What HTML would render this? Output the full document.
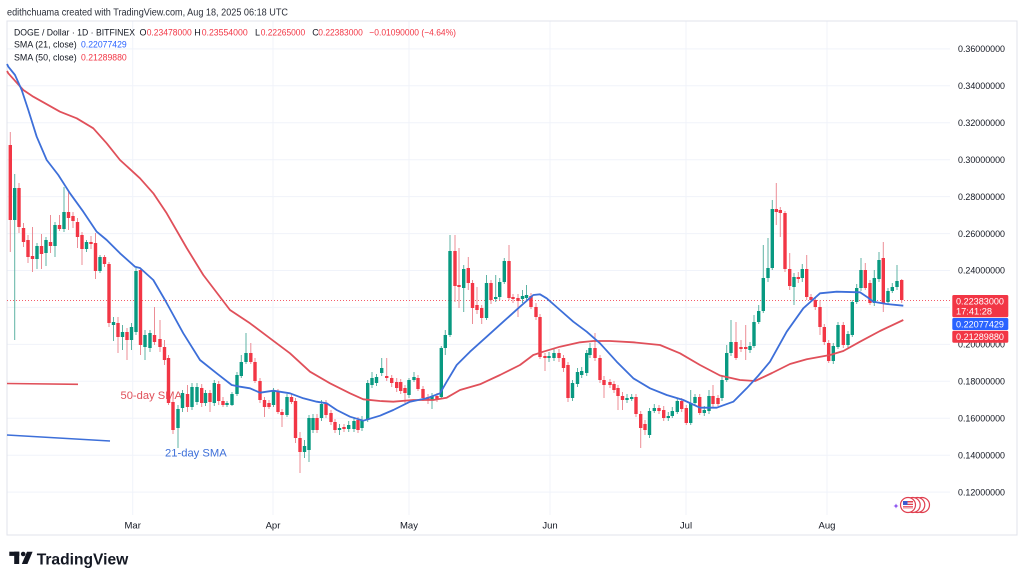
<!DOCTYPE html>
<html><head><meta charset="utf-8"><style>html,body{margin:0;padding:0;background:#fff;overflow:hidden}svg{display:block}</style></head><body>
<svg width="1024" height="581" viewBox="0 0 1024 581" xmlns="http://www.w3.org/2000/svg" font-family="Liberation Sans, Arial, sans-serif">
<rect width="1024" height="581" fill="#fff"/>
<text x="7" y="15.3" font-size="10" fill="#2a2e39" textLength="281" lengthAdjust="spacingAndGlyphs">edithchuama created with TradingView.com, Aug 18, 2025 06:18 UTC</text>
<g stroke="#f0f3fa" stroke-width="1">
<path d="M7 48.9H950M7 85.8H950M7 122.8H950M7 159.7H950M7 196.6H950M7 233.6H950M7 270.5H950M7 307.4H950M7 344.4H950M7 381.3H950M7 418.2H950M7 455.2H950M7 492.1H950"/>
<path d="M132.7 21V515M273 21V515M409 21V515M550 21V515M686 21V515M827 21V515"/>
</g>
<rect x="7" y="21" width="1010" height="514" fill="none" stroke="#e0e3eb" stroke-width="1"/>
<g font-size="9">
<text x="14" y="35.5" fill="#131722" textLength="121" lengthAdjust="spacingAndGlyphs">DOGE / Dollar · 1D · BITFINEX</text>
<text x="139.5" y="35.5" fill="#131722">O</text>
<text x="146.7" y="35.5" fill="#f23645" textLength="45" lengthAdjust="spacingAndGlyphs">0.23478000</text>
<text x="194.3" y="35.5" fill="#131722">H</text>
<text x="201.7" y="35.5" fill="#f23645" textLength="46" lengthAdjust="spacingAndGlyphs">0.23554000</text>
<text x="255" y="35.5" fill="#131722">L</text>
<text x="260.7" y="35.5" fill="#f23645" textLength="44.5" lengthAdjust="spacingAndGlyphs">0.22265000</text>
<text x="312.3" y="35.5" fill="#131722">C</text>
<text x="318.3" y="35.5" fill="#f23645" textLength="44.5" lengthAdjust="spacingAndGlyphs">0.22383000</text>
<text x="369.3" y="35.5" fill="#f23645" textLength="86.7" lengthAdjust="spacingAndGlyphs">−0.01090000 (−4.64%)</text>
<text x="14" y="47.5" fill="#131722" textLength="62.7" lengthAdjust="spacingAndGlyphs">SMA (21, close)</text>
<text x="81" y="47.5" fill="#2962ff" textLength="45.7" lengthAdjust="spacingAndGlyphs">0.22077429</text>
<text x="14" y="60.5" fill="#131722" textLength="62.7" lengthAdjust="spacingAndGlyphs">SMA (50, close)</text>
<text x="81" y="60.5" fill="#f23645" textLength="45.7" lengthAdjust="spacingAndGlyphs">0.21289880</text>
</g>
<g font-size="9" fill="#131722">
<text x="958" y="52.1" textLength="47" lengthAdjust="spacingAndGlyphs">0.36000000</text>
<text x="958" y="89" textLength="47" lengthAdjust="spacingAndGlyphs">0.34000000</text>
<text x="958" y="126" textLength="47" lengthAdjust="spacingAndGlyphs">0.32000000</text>
<text x="958" y="162.9" textLength="47" lengthAdjust="spacingAndGlyphs">0.30000000</text>
<text x="958" y="199.8" textLength="47" lengthAdjust="spacingAndGlyphs">0.28000000</text>
<text x="958" y="236.8" textLength="47" lengthAdjust="spacingAndGlyphs">0.26000000</text>
<text x="958" y="273.7" textLength="47" lengthAdjust="spacingAndGlyphs">0.24000000</text>
<text x="958" y="347.6" textLength="47" lengthAdjust="spacingAndGlyphs">0.20000000</text>
<text x="958" y="384.5" textLength="47" lengthAdjust="spacingAndGlyphs">0.18000000</text>
<text x="958" y="421.4" textLength="47" lengthAdjust="spacingAndGlyphs">0.16000000</text>
<text x="958" y="458.4" textLength="47" lengthAdjust="spacingAndGlyphs">0.14000000</text>
<text x="958" y="495.3" textLength="47" lengthAdjust="spacingAndGlyphs">0.12000000</text>
</g>
<g font-size="9.5" fill="#131722" text-anchor="middle">
<text x="132.7" y="528.5">Mar</text>
<text x="273" y="528.5">Apr</text>
<text x="409" y="528.5">May</text>
<text x="550" y="528.5">Jun</text>
<text x="686" y="528.5">Jul</text>
<text x="827" y="528.5">Aug</text>
</g>
<!-- annotations -->
<line x1="7" y1="383.5" x2="78" y2="384.3" stroke="#e0505a" stroke-width="1.6"/>
<line x1="7" y1="435" x2="110" y2="441" stroke="#3d6fd9" stroke-width="1.6"/>
<text x="120.5" y="399" font-size="11" fill="#e0505a" textLength="61.5" lengthAdjust="spacingAndGlyphs">50-day SMA</text>
<text x="165" y="456.5" font-size="11" fill="#3d6fd9" textLength="61.7" lengthAdjust="spacingAndGlyphs">21-day SMA</text>
<!-- current price line -->
<line x1="7" y1="300.5" x2="950" y2="300.5" stroke="#f23645" stroke-width="1" stroke-dasharray="1 2" opacity="0.8"/>
<!-- wicks -->
<path fill="none" stroke="#5fb3a4" stroke-width="1" d="M14.7 174V340M37 243V269M46 237V266M55 222V257M64 187V232M86.5 240V252M100 255V273M113.5 317V341M122.5 325V350M131.5 323V350M136 268V335M145 330V360M150 330V352M178 405V448M182.5 390V412M192 383V410M197 383V405M205.5 390V406M214.3 380V406M227 401V407M232 392V406M237 372V396M241.3 355V378M246 333V364M273.5 388V407M287 394V417M304.5 440V458M309 415V462M313 414V433M321.5 400V421M339.5 424V435M348.7 421V432M354 418V432M362 416V431M367.7 380V422M372 372V388M376.5 374V386M381.7 358V376M409 378V398M414 372V382M432 393V409M441.3 346V399M445.3 330V355M450 235V337M463.7 265V312M486.5 275V320M495.7 275V302M499.7 278V300M504.3 258V284M522.5 290V303M526.5 285V300M549 352V362M554 348V361M572.5 380V401M577.5 368V387M581.7 367V378M586.7 350V376M590 343V358M627 394V403M631.7 394V401M649.5 408V438M654.3 404V413M668.3 412V421M672.3 407V418M677.3 398V414M690.7 390V425M695 394V406M704.3 406V416M709 390V414M722 376V401M726.7 345V382M731 320V356M750 342V353M754 315V348M758.7 305V324M763.3 245V313M768 238V282M772.3 200V270M794 273V305M802.3 264V282M833.3 343V364M838 322V349M848 331V348M852.3 300V337M856.7 284V304M861 258V291M874.3 270V306M879 252V282M888 288V304M892.3 283V293M897 265V290"/>
<path fill="none" stroke="#ec8d96" stroke-width="1" d="M10.3 132V252M19 183V233M23.5 223V247M28 235V263M32.5 227V272M41.5 234V269M50.5 215V253M59.5 215V231M68.5 192V230M73 212V228M77.5 218V248M82 232V265M91 236V249M95.5 233V279M104.5 255V267M109 262V327M118 317V353M127 328V360M140.5 268V355M154.5 307V345M160 320V352M164.5 340V365M168.5 355V405M173 395V434M187.5 385V412M201.7 384V407M210 390V412M218.7 381V405M223 397V407M250.8 343V364M255 358V383M260 378V403M264.5 397V417M269 400V409M278 389V414M282 409V427M291.5 394V404M295.5 398V443M300 432V473M317 414V433M326 400V418M331 410V425M335 419V433M344 424V432M358 417V433M386.7 358V381M391.7 375V387M396.7 378V392M400.7 379V394M405 385V403M418 375V391M423 386V401M428 394V404M437 393V402M455 235V302M459 248V308M468.3 257V290M472.5 280V324M477 287V314M481.7 305V324M491 280V304M509 245V300M513 294V303M518 294V317M531 293V309M536 303V320M540 314V359M545 353V371M559 349V362M563.5 355V372M568 362V402M595 333V361M600 355V383M604 376V398M610 379V388M614 381V393M618 385V410M622.5 392V410M636 394V417M640.7 411V448M645 420V435M659 405V414M663.7 406V421M681.7 398V412M686.3 405V425M699.7 394V415M713 385V407M718 395V406M736 322V360M741 340V352M745.7 325V360M776.3 183V225M780.3 207V237M785 211V272M789.7 253V290M798.3 272V283M806.7 255V300M811 294V302M815.3 297V310M820 300V335M824.3 324V345M828.7 340V363M843.3 322V348M865.3 263V290M870 280V305M883.3 242V312M901.7 279V303"/>
<!-- bodies -->
<path fill="#089981" d="M13 188h3.4V220h-3.4zM35.3 246h3.4V259h-3.4zM44.3 240h3.4V253h-3.4zM53.3 225h3.4V246h-3.4zM62.3 212h3.4V229h-3.4zM84.8 242h3.4V249h-3.4zM98.3 257h3.4V271h-3.4zM111.8 322h3.4V325h-3.4zM120.8 332h3.4V337h-3.4zM129.8 327h3.4V340h-3.4zM134.3 271h3.4V332h-3.4zM143.3 335h3.4V347h-3.4zM148.3 333h3.4V348h-3.4zM176.3 409h3.4V428h-3.4zM180.8 393h3.4V408h-3.4zM190.3 387h3.4V407h-3.4zM195.3 387h3.4V402h-3.4zM203.8 393h3.4V403h-3.4zM212.6 383h3.4V403h-3.4zM225.3 403h3.4V405h-3.4zM230.3 394h3.4V405h-3.4zM235.3 375h3.4V394h-3.4zM239.6 362h3.4V376h-3.4zM244.3 353h3.4V362h-3.4zM271.8 391h3.4V405h-3.4zM285.3 397h3.4V415h-3.4zM302.8 446h3.4V452h-3.4zM307.3 418h3.4V450h-3.4zM311.3 418h3.4V430h-3.4zM319.8 404h3.4V418h-3.4zM337.8 428h3.4V430h-3.4zM347 425h3.4V429h-3.4zM352.3 421h3.4V429h-3.4zM360.3 420h3.4V428h-3.4zM366 383h3.4V420h-3.4zM370.3 378h3.4V385h-3.4zM374.8 377h3.4V383h-3.4zM380 368h3.4V373h-3.4zM407.3 380h3.4V395h-3.4zM412.3 377h3.4V380h-3.4zM430.3 396h3.4V400h-3.4zM439.6 348h3.4V397h-3.4zM443.6 335h3.4V348h-3.4zM448.3 251h3.4V335h-3.4zM462 269h3.4V288h-3.4zM484.8 283h3.4V318h-3.4zM494 297h3.4V299h-3.4zM498 282h3.4V297h-3.4zM502.6 261h3.4V282h-3.4zM520.8 296h3.4V299h-3.4zM524.8 295h3.4V298h-3.4zM547.3 356h3.4V358h-3.4zM552.3 353h3.4V358h-3.4zM570.8 383h3.4V398h-3.4zM575.8 372h3.4V384h-3.4zM580 371h3.4V375h-3.4zM585 353h3.4V373h-3.4zM588.3 348h3.4V355h-3.4zM625.3 398h3.4V400h-3.4zM630 397h3.4V399h-3.4zM647.8 411h3.4V435h-3.4zM652.6 408h3.4V411h-3.4zM666.6 416h3.4V418h-3.4zM670.6 411h3.4V416h-3.4zM675.6 401h3.4V412h-3.4zM689 403h3.4V423h-3.4zM693.3 397h3.4V403h-3.4zM702.6 410h3.4V413h-3.4zM707.3 396h3.4V411h-3.4zM720.3 380h3.4V398h-3.4zM725 353h3.4V380h-3.4zM729.3 342h3.4V353h-3.4zM748.3 346h3.4V350h-3.4zM752.3 322h3.4V346h-3.4zM757 311h3.4V322h-3.4zM761.6 278h3.4V311h-3.4zM766.3 268h3.4V278h-3.4zM770.6 209h3.4V268h-3.4zM792.3 277h3.4V287h-3.4zM800.6 269h3.4V278h-3.4zM831.6 346h3.4V361h-3.4zM836.3 325h3.4V347h-3.4zM846.3 334h3.4V345h-3.4zM850.6 302h3.4V335h-3.4zM855 288h3.4V302h-3.4zM859.3 270h3.4V288h-3.4zM872.6 278h3.4V303h-3.4zM877.3 260h3.4V279h-3.4zM886.3 291h3.4V302h-3.4zM890.6 287h3.4V291h-3.4zM895.3 281h3.4V287h-3.4z"/>
<path fill="#f23645" d="M8.6 145h3.4V220h-3.4zM17.3 188h3.4V227h-3.4zM21.8 228h3.4V242h-3.4zM26.3 240h3.4V257h-3.4zM30.8 256h3.4V259h-3.4zM39.8 246h3.4V254h-3.4zM48.8 242h3.4V246h-3.4zM57.8 225h3.4V229h-3.4zM66.8 212h3.4V218h-3.4zM71.3 216h3.4V221h-3.4zM75.8 222h3.4V237h-3.4zM80.3 235h3.4V249h-3.4zM89.3 242h3.4V244h-3.4zM93.8 243h3.4V271h-3.4zM102.8 257h3.4V264h-3.4zM107.3 264h3.4V323h-3.4zM116.3 323h3.4V337h-3.4zM125.3 332h3.4V340h-3.4zM138.8 270h3.4V345h-3.4zM152.8 335h3.4V342h-3.4zM158.3 339h3.4V347h-3.4zM162.8 347h3.4V360h-3.4zM166.8 358h3.4V403h-3.4zM171.3 402h3.4V430h-3.4zM185.8 394h3.4V407h-3.4zM200 388h3.4V403h-3.4zM208.3 393h3.4V402h-3.4zM217 384h3.4V401h-3.4zM221.3 401h3.4V405h-3.4zM249.1 353h3.4V362h-3.4zM253.3 362h3.4V381h-3.4zM258.3 381h3.4V400h-3.4zM262.8 400h3.4V407h-3.4zM267.3 403h3.4V407h-3.4zM276.3 392h3.4V412h-3.4zM280.3 412h3.4V415h-3.4zM289.8 397h3.4V402h-3.4zM293.8 401h3.4V438h-3.4zM298.3 438h3.4V452h-3.4zM315.3 418h3.4V430h-3.4zM324.3 404h3.4V415h-3.4zM329.3 413h3.4V422h-3.4zM333.3 422h3.4V430h-3.4zM342.3 427h3.4V429h-3.4zM356.3 420h3.4V430h-3.4zM385 376h3.4V378h-3.4zM390 378h3.4V383h-3.4zM395 382h3.4V388h-3.4zM399 382h3.4V391h-3.4zM403.3 388h3.4V393h-3.4zM416.3 378h3.4V389h-3.4zM421.3 389h3.4V398h-3.4zM426.3 397h3.4V400h-3.4zM435.3 396h3.4V399h-3.4zM453.3 251h3.4V286h-3.4zM457.3 285h3.4V287h-3.4zM466.6 268h3.4V283h-3.4zM470.8 283h3.4V308h-3.4zM475.3 305h3.4V310h-3.4zM480 308h3.4V318h-3.4zM489.3 283h3.4V300h-3.4zM507.3 261h3.4V298h-3.4zM511.3 297h3.4V299h-3.4zM516.3 298h3.4V301h-3.4zM529.3 296h3.4V307h-3.4zM534.3 307h3.4V317h-3.4zM538.3 317h3.4V357h-3.4zM543.3 356h3.4V358h-3.4zM557.3 353h3.4V358h-3.4zM561.8 358h3.4V368h-3.4zM566.3 365h3.4V398h-3.4zM593.3 348h3.4V358h-3.4zM598.3 358h3.4V380h-3.4zM602.3 380h3.4V385h-3.4zM608.3 382h3.4V385h-3.4zM612.3 384h3.4V390h-3.4zM616.3 388h3.4V396h-3.4zM620.8 396h3.4V400h-3.4zM634.3 397h3.4V414h-3.4zM639 414h3.4V428h-3.4zM643.3 424h3.4V430h-3.4zM657.3 408h3.4V411h-3.4zM662 410h3.4V418h-3.4zM680 401h3.4V409h-3.4zM684.6 408h3.4V423h-3.4zM698 397h3.4V413h-3.4zM711.3 396h3.4V404h-3.4zM716.3 398h3.4V404h-3.4zM734.3 342h3.4V358h-3.4zM739.3 347h3.4V349h-3.4zM744 347h3.4V349h-3.4zM774.6 209h3.4V212h-3.4zM778.6 210h3.4V213h-3.4zM783.3 213h3.4V269h-3.4zM788 269h3.4V286h-3.4zM796.6 277h3.4V279h-3.4zM805 269h3.4V297h-3.4zM809.3 297h3.4V300h-3.4zM813.6 300h3.4V307h-3.4zM818.3 307h3.4V327h-3.4zM822.6 327h3.4V342h-3.4zM827 343h3.4V361h-3.4zM841.6 325h3.4V345h-3.4zM863.6 270h3.4V288h-3.4zM868.3 283h3.4V303h-3.4zM881.6 258h3.4V303h-3.4zM900 280h3.4V300h-3.4z"/>
<!-- SMA lines -->
<polyline fill="none" stroke="#e0505a" stroke-width="1.8" stroke-linejoin="round" points="7,71 8.3,73.3 23.3,90 33.3,96.7 60,111.7 76.7,118.3 93.3,128.3 106.7,143.3 120,160 140,178.3 153.3,193.3 166.7,213.3 186.7,248 203.3,275 230,310 250,323.3 270,338.3 290,353.3 310,371.7 330,383.3 350,393.3 363.3,399.3 380,401 393.3,401.7 413.3,400 433.3,400 446.7,397.7 460,390 480,384.3 500,375 520,365 533.3,355 543.3,351.7 560,346.7 580,342.3 593.3,341 610,341 633.3,342.3 660,345 680,353.3 700,365 720,375.5 740,380 755,381 772,373 790,364 806.7,359.3 830,355 843.3,351 860,341.7 880,331 903.3,320"/>
<polyline fill="none" stroke="#3d6fd9" stroke-width="1.8" stroke-linejoin="round" points="7,64 8.3,66.7 15,75 21.7,90 28.3,110 36.7,136.7 46.7,160 58.3,175 70,193.3 83.3,211.7 96.7,231.7 106.7,240 120,253.3 135,266.7 140,268 153.3,280 165,300 183.3,333.3 200,360 216.7,373.3 231.7,385 240,386.7 250,388.3 260,392.7 273.3,390.7 290,393.3 303.3,398.3 316.7,401.7 326.7,403.3 336.7,410 350,416.7 363.3,420.7 380,415.7 393.3,410 410,401.7 426.7,398.3 440,393.3 446.7,381.7 456.7,365 470,351.7 486.7,336.7 503.3,321.7 520,306.7 533.3,295 540,294.3 546.7,298.3 560,310 573.3,321.7 586.7,331.7 600,343.3 616.7,361.7 633.3,378.3 650,388.3 666.7,395 683.3,400 700,407.7 716.7,407.7 733.3,401.7 746.7,388.3 758,376 770,361.7 786.7,331.7 803.3,308.3 820,293.3 836.7,291.7 860,292.3 866.7,296.7 873.3,301.7 886.7,304 903.3,305.7"/>
<!-- price labels -->
<rect x="952.3" y="295" width="56" height="22.3" rx="1.5" fill="#f23645"/>
<rect x="952.3" y="318" width="56" height="12" rx="1.5" fill="#2962ff"/>
<rect x="952.3" y="330.7" width="56" height="12" rx="1.5" fill="#f23645"/>
<g font-size="9" fill="#fff">
<text x="956" y="304.5" textLength="48" lengthAdjust="spacingAndGlyphs">0.22383000</text>
<text x="956" y="314.5" textLength="36" lengthAdjust="spacingAndGlyphs">17:41:28</text>
<text x="956" y="327.3" textLength="48" lengthAdjust="spacingAndGlyphs">0.22077429</text>
<text x="956" y="340" textLength="48" lengthAdjust="spacingAndGlyphs">0.21289880</text>
</g>
<!-- event icons -->
<g stroke="#e04050" stroke-width="1.2" fill="#fff">
<circle cx="922" cy="505" r="7.5"/>
<circle cx="917.3" cy="505" r="7.5"/>
<circle cx="912.7" cy="505" r="7.5"/>
<circle cx="908" cy="505" r="7.5"/>
</g>
<rect x="903" y="501" width="10" height="8" fill="#e04050"/>
<rect x="903" y="502.5" width="10" height="1.2" fill="#fff"/>
<rect x="903" y="505" width="10" height="1.2" fill="#fff"/>
<rect x="903" y="507.5" width="10" height="1.2" fill="#fff"/>
<rect x="903" y="501" width="4.5" height="4" fill="#3c5bd0"/>
<path d="M896 503.5L896.8 505.2L898.5 506L896.8 506.8L896 508.5L895.2 506.8L893.5 506L895.2 505.2Z" fill="#8a4ff0"/>
<!-- logo -->
<g fill="#131722">
<rect x="9.3" y="551.7" width="10" height="4.2"/>
<rect x="14.2" y="551.7" width="5" height="12.3"/>
<circle cx="23.2" cy="554" r="2.3"/>
<path d="M27 551.7H32.6L27.4 564H21.8Z"/>
<text x="36.7" y="564.3" font-size="16" font-weight="bold" textLength="91.6" lengthAdjust="spacingAndGlyphs">TradingView</text>
</g>
</svg>
</body></html>
